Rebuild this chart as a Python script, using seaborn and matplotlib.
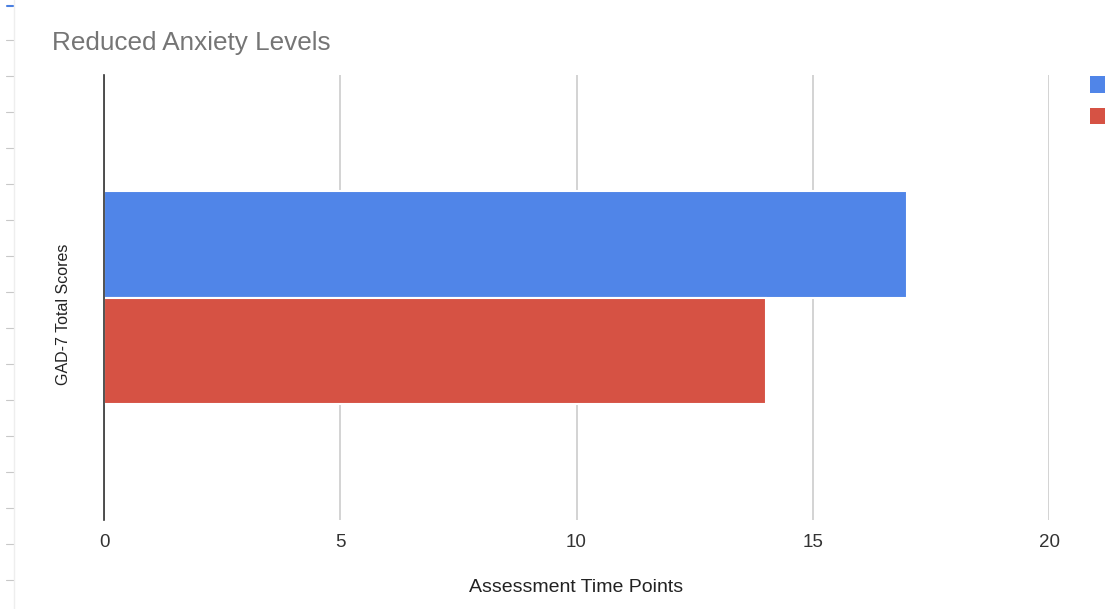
import matplotlib
matplotlib.use("Agg")
import matplotlib.pyplot as plt
from matplotlib.lines import Line2D
from matplotlib.patches import Patch
import seaborn as sns
import pandas as pd

# GAD-7 totals at each assessment point
measure = ["GAD-7 Total Scores", "GAD-7 Total Scores"]
time_points = ["Baseline", "Follow-up"]
scores = [17, 14]
colors = ["#5085E8", "#D65244"]

df = pd.DataFrame({"measure": measure, "time": time_points, "score": scores})

sns.set_theme(style="white")
plt.rcParams["font.family"] = ["Liberation Sans", "DejaVu Sans"]

fig = plt.figure(figsize=(11.05, 6.09), dpi=100)
ax = fig.add_axes([104 / 1105, 1 - 520 / 609, (1049 - 104) / 1105, (520 - 75) / 609])

sns.barplot(data=df, x="score", y="measure", hue="time", orient="h",
            palette=colors, width=0.478, edgecolor="white", linewidth=1.5,
            saturation=1, ax=ax, legend=False)

ax.set_xlim(0, 20)
ax.set_ylim(0.5, -0.5)
ax.set_xticks([0, 5, 10, 15, 20])
ax.xaxis.grid(True, color="#CCCCCC", linewidth=1.2)
ax.set_axisbelow(True)
for s in ["top", "right", "bottom"]:
    ax.spines[s].set_visible(False)
ax.spines["left"].set_color("#333333")
ax.spines["left"].set_linewidth(1.2)
ax.set_yticks([])
ax.tick_params(axis="x", length=0, pad=10, labelsize=13.5, labelcolor="#333333")

ax.set_xlabel("")
ax.set_ylabel("")
fig.text(576 / 1105, 1 - 587 / 609, "Assessment Time Points", ha="center",
         va="center", fontsize=14, color="#222222")
fig.text(63 / 1105, 1 - 314 / 609, "GAD-7 Total Scores", rotation=90,
         ha="center", va="center", fontsize=11.5, color="#222222")

fig.text(52 / 1105, 1 - 43 / 609, "Reduced Anxiety Levels", ha="left",
         va="center", fontsize=18.8, color="#757575")

# legend swatches against the right edge of the canvas
handles = [Patch(facecolor=c, edgecolor="none") for c in colors]
ax.legend(handles, ["", ""], loc="upper left",
          bbox_to_anchor=(1090 / 1105, 1 - 76 / 609),
          bbox_transform=fig.transFigure, frameon=False, handlelength=1.15,
          handleheight=1.15, handletextpad=0, labelspacing=0.9,
          borderpad=0, borderaxespad=0, fontsize=12)

# faint ruler along the left edge
fig.add_artist(Line2D([14 / 1105, 14 / 1105], [0, 1], color="#EEEEEE", lw=1,
                      transform=fig.transFigure))
for y in range(40, 600, 36):
    fig.add_artist(Line2D([6 / 1105, 13 / 1105], [1 - y / 609, 1 - y / 609],
                          color="#C8C8C8", lw=0.8, transform=fig.transFigure))
fig.add_artist(Line2D([7 / 1105, 13 / 1105], [1 - 6 / 609, 1 - 6 / 609],
                      color="#4A7FE0", lw=1.5, transform=fig.transFigure))

fig.savefig("out.png", dpi=100)
